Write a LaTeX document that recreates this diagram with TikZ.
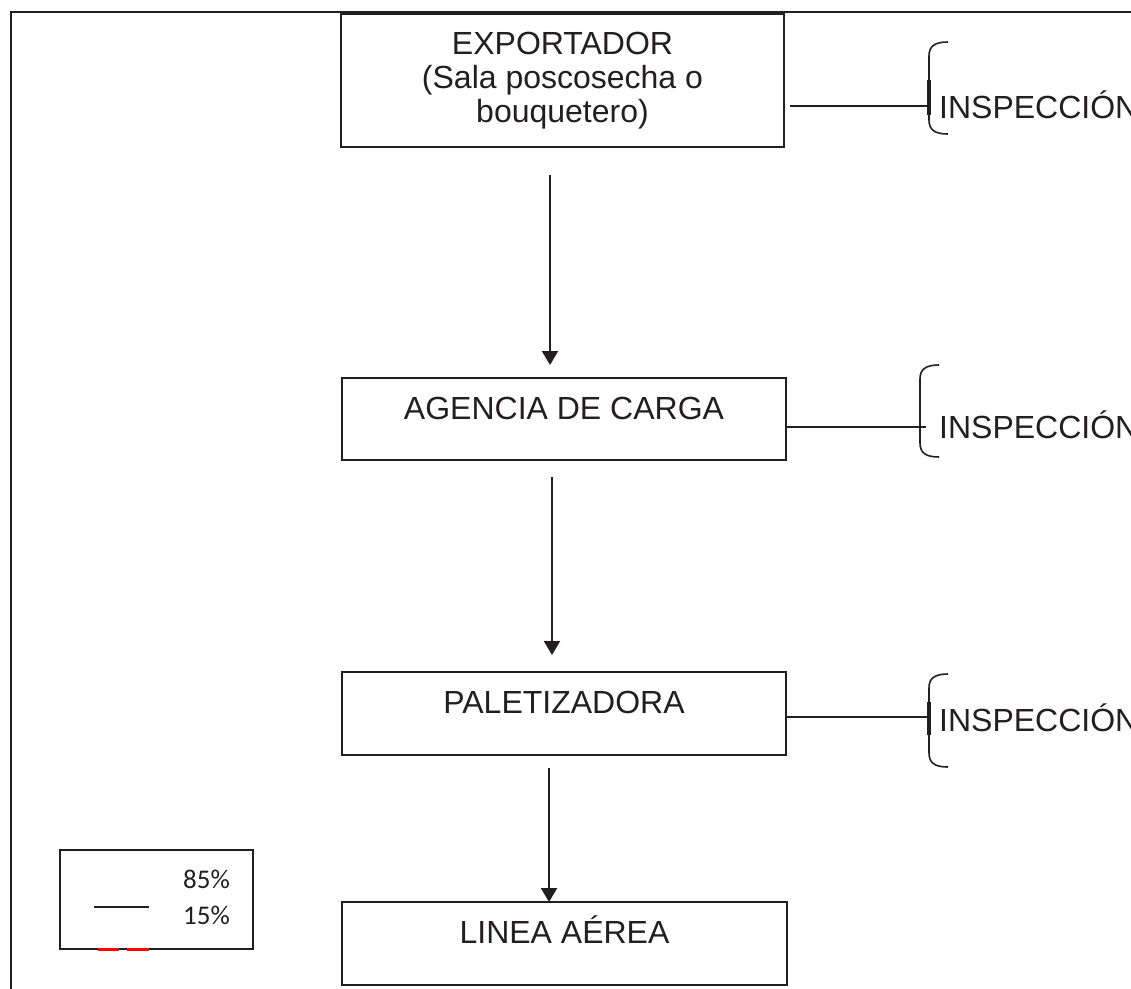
\documentclass[tikz,border=0pt]{standalone}
\usepackage{fontspec}
\setmainfont{Liberation Sans}
\newfontfamily\legfont{Carlito}
\usetikzlibrary{arrows.meta}
\definecolor{ink}{HTML}{231F20}
\begin{document}
\begin{tikzpicture}[x=1pt,y=-1pt,
  stagebox/.style={draw=ink, line width=2pt, rectangle, inner sep=0pt, outer sep=0pt,
     font=\fontsize{32}{34}\selectfont, text=ink, align=center},
  onebox/.style={stagebox, text height=23pt, text depth=23pt},
  arr/.style={draw=ink, line width=2pt, -{Triangle[width=16pt,length=14pt]}},
  link/.style={draw=ink, line width=2pt},
  bracepath/.style={draw=ink, line width=1.6pt},
  insp/.style={anchor=base west, inner sep=0pt, font=\fontsize{32}{34}\selectfont, text=ink},
  legtxt/.style={anchor=base east, inner sep=0pt, font=\legfont\fontsize{27}{30}\selectfont, text=ink}]
\useasboundingbox (0,0) rectangle (1131,988);
\fill[white] (0,0) rectangle (1131,988);
% outer frame
\draw[ink, line width=2pt] (11,990) -- (11,12) -- (1133,12);
% boxes
\node[stagebox, minimum width=443pt, minimum height=133pt] (exp) at (562.5,80.5)
  {EXPORTADOR\\(Sala poscosecha o\\bouquetero)};
\node[onebox, minimum width=444pt, minimum height=82pt] (agc) at (564,419) {AGENCIA DE CARGA};
\node[onebox, minimum width=444pt, minimum height=83pt] (pal) at (564,713.5) {PALETIZADORA};
\node[onebox, minimum width=445pt, minimum height=83pt] (lin) at (564.5,943.5) {LINEA AÉREA};
% arrows
\draw[arr, shorten <=28pt, shorten >=13pt] ([xshift=-12.5pt]exp.south) -- ([xshift=-14pt]agc.north);
\draw[arr, shorten <=17pt, shorten >=17pt] ([xshift=-12pt]agc.south) -- ([xshift=-12pt]pal.north);
\draw[arr, shorten <=13pt] ([xshift=-15pt]pal.south) -- ([xshift=-15.5pt]lin.north);
% brace anchor points
\coordinate (b1) at (929,106);
\coordinate (b2) at (920,427);
\coordinate (b3) at (929,717);
% braces
\draw[bracepath] (948,42) .. controls (935,42) and (929,46) .. (929,56) -- (929,120) .. controls (929,130) and (935,134) .. (948,134);
\draw[ink, line width=4pt] (929,80) -- (929,115);
\draw[bracepath] (939,365) .. controls (926,365) and (920,369) .. (920,379) -- (920,443) .. controls (920,453) and (926,457) .. (939,457);
\draw[bracepath] (948,674) .. controls (935,674) and (929,678) .. (929,688) -- (929,753) .. controls (929,763) and (935,767) .. (948,767);
\draw[ink, line width=4pt] (929,702) -- (929,735);
% connectors to braces
\draw[link, shorten <=6pt] (exp.east |- b1) -- (b1);
\draw[link] (agc.east |- b2) -- ([xshift=6pt]b2);
\draw[link] (pal.east |- b3) -- (b3);
% inspection labels
\node[insp] (i1) at (939,118) {INSPECCIÓN};
\node[insp] (i2) at (939,438) {INSPECCIÓN};
\node[insp] (i3) at (939,731) {INSPECCIÓN};
% legend
\draw[ink, line width=2pt] (60,850) rectangle (253,949);
\coordinate (l1) at (94,907);
\coordinate (l2) at (149,907);
\draw[ink, line width=2pt] (l1) -- (l2);
\draw[red, line width=3pt] (98,949) -- (119,949);
\draw[red, line width=3pt] (127,949) -- (149,949);
\node[legtxt] (p85) at (230,888) {85\%};
\node[legtxt] (p15) at (230,924) {15\%};
\end{tikzpicture}
\end{document}
